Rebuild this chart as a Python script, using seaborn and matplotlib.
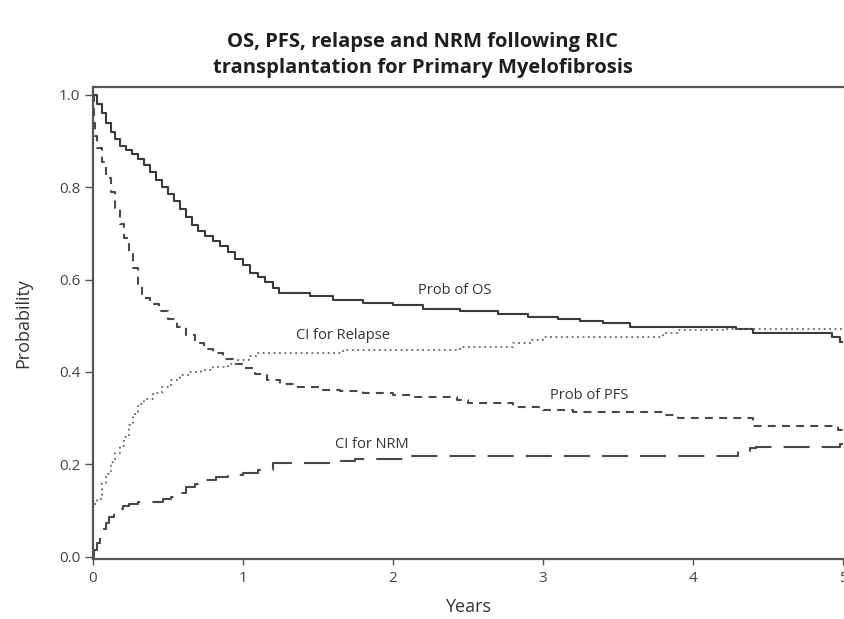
import matplotlib
matplotlib.use("Agg")
import matplotlib.pyplot as plt
import seaborn as sns
import pandas as pd

# Overall survival (Kaplan-Meier step estimate)
os_years = [0, 0.03, 0.06, 0.09, 0.12, 0.15, 0.18, 0.22, 0.26, 0.30, 0.34, 0.38, 0.42,
            0.46, 0.50, 0.54, 0.58, 0.62, 0.66, 0.70, 0.75, 0.80, 0.85, 0.90, 0.95,
            1.00, 1.05, 1.10, 1.15, 1.20, 1.24, 1.45, 1.60, 1.80, 2.00, 2.20, 2.45,
            2.70, 2.90, 3.10, 3.25, 3.40, 3.58, 4.29, 4.40, 4.93, 4.98, 5.0]
os_prob = [1.0, 0.98, 0.96, 0.94, 0.92, 0.905, 0.89, 0.88, 0.872, 0.862, 0.848, 0.832,
           0.815, 0.80, 0.786, 0.77, 0.752, 0.735, 0.718, 0.705, 0.694, 0.684, 0.672,
           0.66, 0.645, 0.632, 0.615, 0.605, 0.595, 0.582, 0.572, 0.565, 0.556, 0.550,
           0.544, 0.537, 0.531, 0.525, 0.520, 0.515, 0.510, 0.505, 0.498, 0.493, 0.485,
           0.475, 0.465, 0.465]

# Progression-free survival
pfs_years = [0, 0.005, 0.01, 0.015, 0.03, 0.06, 0.09, 0.12, 0.15, 0.18, 0.21, 0.24,
             0.27, 0.30, 0.33, 0.38, 0.44, 0.50, 0.56, 0.62, 0.68, 0.74, 0.80, 0.87,
             0.94, 1.0, 1.08, 1.16, 1.25, 1.35, 1.5, 1.65, 1.8, 2.0, 2.15, 2.43, 2.5,
             2.8, 3.0, 3.2, 3.8, 3.9, 4.4, 4.97, 5.0]
pfs_prob = [1.0, 0.97, 0.94, 0.91, 0.885, 0.855, 0.82, 0.79, 0.755, 0.72, 0.69, 0.66,
            0.625, 0.59, 0.56, 0.548, 0.532, 0.515, 0.498, 0.48, 0.463, 0.45, 0.44,
            0.428, 0.418, 0.408, 0.395, 0.383, 0.375, 0.368, 0.362, 0.358, 0.355,
            0.350, 0.346, 0.340, 0.333, 0.325, 0.318, 0.314, 0.307, 0.300, 0.284,
            0.275, 0.275]

# Cumulative incidence of relapse
rel_years = [0, 0.003, 0.03, 0.06, 0.09, 0.12, 0.15, 0.18, 0.21, 0.24, 0.27, 0.30,
             0.34, 0.40, 0.46, 0.52, 0.58, 0.65, 0.72, 0.80, 0.90, 0.97, 1.04, 1.10,
             1.20, 1.67, 2.45, 2.8, 2.92, 3.0, 3.8, 3.9, 4.2, 5.0]
rel_prob = [0, 0.115, 0.125, 0.16, 0.18, 0.205, 0.225, 0.24, 0.26, 0.285, 0.31, 0.33,
            0.342, 0.355, 0.368, 0.383, 0.393, 0.400, 0.405, 0.41, 0.418, 0.425,
            0.435, 0.44, 0.442, 0.448, 0.455, 0.463, 0.470, 0.476, 0.484, 0.490,
            0.494, 0.494]

# Cumulative incidence of non-relapse mortality
nrm_years = [0, 0.01, 0.03, 0.05, 0.07, 0.09, 0.11, 0.14, 0.17, 0.20, 0.24, 0.30,
             0.47, 0.52, 0.56, 0.62, 0.68, 0.74, 0.82, 0.9, 1.0, 1.1, 1.2, 1.6, 1.75,
             2.1, 4.3, 4.38, 4.42, 4.98, 5.0]
nrm_prob = [0, 0.015, 0.03, 0.045, 0.06, 0.073, 0.085, 0.095, 0.104, 0.11, 0.115,
            0.119, 0.125, 0.13, 0.138, 0.15, 0.158, 0.165, 0.172, 0.177, 0.182, 0.188,
            0.203, 0.207, 0.212, 0.218, 0.228, 0.235, 0.238, 0.245, 0.245]

curve_labels = ["Prob of OS", "CI for Relapse", "Prob of PFS", "CI for NRM"]
label_x = [2.41, 1.67, 3.31, 1.86]
label_y = [0.576, 0.48, 0.348, 0.242]

x_ticks = [0, 1, 2, 3, 4, 5]
y_ticks = [0.0, 0.2, 0.4, 0.6, 0.8, 1.0]

sns.set_style("ticks")
plt.rcParams["font.family"] = ["Open Sans", "DejaVu Sans"]

fig = plt.figure(figsize=(8.45, 6.19), dpi=100)
ax = fig.add_axes([93 / 845, 60 / 619, 750 / 845, 472 / 619])

series = [
    (os_years, os_prob, dict(linestyle="-", linewidth=1.5, color="#3a3a3a")),
    (pfs_years, pfs_prob, dict(linestyle=(0, (3.8, 3.0)), linewidth=1.5, color="#484848")),
    (rel_years, rel_prob, dict(linestyle=(0, (1.0, 2.0)), linewidth=1.3, color="#666666")),
    (nrm_years, nrm_prob, dict(linestyle=(0, (12.5, 5.8)), linewidth=1.5, color="#484848")),
]
for xs, ys, style in series:
    df = pd.DataFrame({"Years": xs, "Probability": ys})
    sns.lineplot(data=df, x="Years", y="Probability", ax=ax, estimator=None,
                 drawstyle="steps-post", **style)

for txt, tx, ty in zip(curve_labels, label_x, label_y):
    ax.text(tx, ty, txt, ha="center", va="center", fontsize=10.5, color="#333333")

ax.set_xlim(0, 5)
ax.set_ylim(-0.005, 1.017)
ax.set_xticks(x_ticks)
ax.set_xticklabels([str(v) for v in x_ticks])
ax.set_yticks(y_ticks)
ax.set_yticklabels([f"{v:.1f}" for v in y_ticks])
ax.tick_params(axis="y", length=6, width=1.0, color="#555555", labelsize=11,
               labelcolor="#444444", pad=3)
ax.tick_params(axis="x", length=4, width=1.0, color="#555555", labelsize=11,
               labelcolor="#444444", pad=5)

for side in ["left", "bottom", "top"]:
    ax.spines[side].set_visible(True)
    ax.spines[side].set_color("#555555")
    ax.spines[side].set_linewidth(1.6)
ax.spines["right"].set_visible(False)

ax.set_xlabel("Years", fontsize=13, color="#333333", labelpad=8)
ax.set_ylabel("Probability", fontsize=13, color="#333333", labelpad=19)

fig.text(0.5, 1 - 42 / 619, "OS, PFS, relapse and NRM following RIC", ha="center",
         va="center", fontsize=14.5, fontweight="bold", color="#1e1e1e")
fig.text(0.5, 1 - 68 / 619, "transplantation for Primary Myelofibrosis", ha="center",
         va="center", fontsize=14.5, fontweight="bold", color="#1e1e1e")

fig.savefig("out.png", dpi=100, facecolor="white")
